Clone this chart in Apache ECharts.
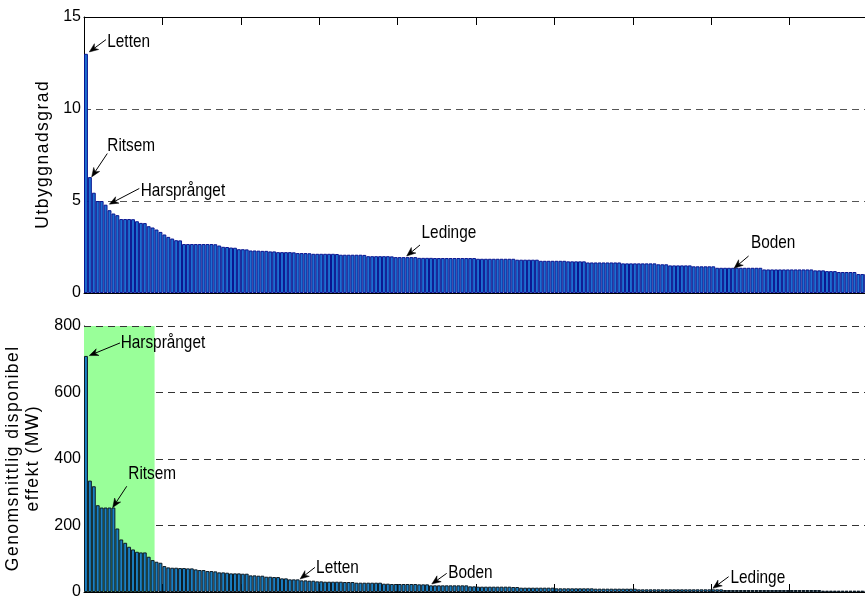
<!DOCTYPE html>
<html>
<head>
<meta charset="utf-8">
<script src="https://cdn.jsdelivr.net/npm/echarts@6/dist/echarts.min.js"></script>
<style>
html,body{margin:0;padding:0;background:#fff;}
#chart{width:865px;height:596px;}
</style>
</head>
<body>
<div id="chart"></div>
<script>
// Utbyggnadsgrad per station, sorted descending (top panel)
const utbyggnadsgrad = [
  13.0, 6.3, 5.45, 5.0, 5.0, 4.8, 4.5, 4.32, 4.23, 4.02, 4.02, 4.02, 4.01, 3.9, 3.81, 3.8, 3.63, 3.56, 3.45, 3.32,
  3.18, 3.05, 2.96, 2.87, 2.86, 2.66, 2.66, 2.66, 2.66, 2.66, 2.66, 2.66, 2.66, 2.65, 2.58, 2.51, 2.5, 2.47, 2.46, 2.38,
  2.38, 2.37, 2.31, 2.31, 2.3, 2.29, 2.29, 2.26, 2.26, 2.22, 2.22, 2.22, 2.22, 2.21, 2.17, 2.17, 2.17, 2.16, 2.13, 2.13,
  2.13, 2.13, 2.13, 2.13, 2.12, 2.08, 2.08, 2.08, 2.08, 2.08, 2.08, 2.07, 2.0, 2.0, 2.0, 2.0, 2.0, 2.0, 1.99, 1.95,
  1.95, 1.95, 1.95, 1.95, 1.95, 1.91, 1.91, 1.91, 1.91, 1.9, 1.9, 1.9, 1.9, 1.9, 1.9, 1.9, 1.9, 1.9, 1.9, 1.9,
  1.86, 1.86, 1.86, 1.86, 1.86, 1.86, 1.86, 1.86, 1.86, 1.86, 1.81, 1.81, 1.81, 1.81, 1.81, 1.81, 1.75, 1.75, 1.75, 1.75,
  1.75, 1.75, 1.75, 1.72, 1.72, 1.72, 1.72, 1.72, 1.66, 1.66, 1.66, 1.66, 1.66, 1.66, 1.66, 1.66, 1.66, 1.61, 1.61, 1.61,
  1.61, 1.61, 1.61, 1.61, 1.61, 1.61, 1.56, 1.56, 1.56, 1.5, 1.5, 1.5, 1.5, 1.5, 1.5, 1.45, 1.45, 1.45, 1.45, 1.45,
  1.45, 1.37, 1.37, 1.37, 1.37, 1.37, 1.37, 1.37, 1.37, 1.37, 1.37, 1.37, 1.37, 1.28, 1.28, 1.28, 1.28, 1.28, 1.28, 1.28,
  1.28, 1.28, 1.28, 1.28, 1.28, 1.28, 1.23, 1.23, 1.23, 1.19, 1.19, 1.19, 1.14, 1.14, 1.14, 1.14, 1.14, 1.03, 1.03, 1.03, 1.03, 1.03
];

// Genomsnittlig disponibel effekt (MW), sorted descending (bottom panel)
const effektMW = [
  710, 335, 318, 261, 254, 254, 254, 254, 191, 158, 148, 136, 128, 121, 119, 119, 106, 96, 91, 88,
  78, 74, 73, 73, 72, 72, 71, 71, 68, 66, 66, 63, 63, 62, 59, 59, 58, 56, 56, 56,
  55, 55, 50, 50, 49, 49, 46, 46, 45, 45, 41, 41, 38, 38, 38, 35, 35, 34, 34, 32,
  32, 31, 31, 31, 31, 31, 30, 30, 30, 28, 28, 28, 28, 28, 28, 28, 25, 25, 24, 24,
  24, 24, 24, 24, 24, 23, 23, 23, 20, 20, 20, 20, 20, 20, 20, 20, 20, 20, 17, 17,
  16, 16, 16, 16, 16, 16, 16, 16, 16, 15, 15, 13, 13, 13, 13, 13, 13, 13, 13, 13,
  11, 11, 11, 11, 11, 11, 11, 11, 11, 11, 10, 10, 10, 10, 10, 10, 10, 10, 10, 10,
  10, 8, 8, 8, 8, 8, 8, 8, 8, 8, 8, 8, 8, 8, 8, 8, 8, 8, 8, 8,
  8, 8, 8, 6, 6, 6, 6, 6, 6, 6, 6, 6, 6, 6, 6, 6, 6, 6, 6, 6,
  6, 6, 6, 6, 6, 6, 6, 6, 4, 4, 4, 4, 4, 4, 4, 4, 4, 4, 4, 4, 4, 4
];

// Station rank (category axis)
const stationRank = utbyggnadsgrad.map((_, i) => String(i + 1));

// Axis settings
const topAxis = { min: 0, max: 15, interval: 5 };
const bottomAxis = { min: 0, max: 800, interval: 200 };
const xTickEvery = 20;

// Green highlighted region in bottom panel: first stations, up to 800 MW
const shadeStations = 18;
const shadeTop = 800;

// Annotations: [label, arrow head [station position, value], arrow tail, label anchor]
const topNotes = [
  ['Letten',      [1.35, 13.1], [5.6, 13.77], [5.94, 13.66]],
  ['Ritsem',      [1.96, 6.31], [5.94, 7.58], [5.94, 8.0]],
  ['Harsprånget', [6.46, 4.83], [14.1, 5.68], [14.45, 5.56]],
  ['Ledinge',     [82.3, 2.01], [85.7, 2.61], [86.1, 3.26]],
  ['Boden',       [165.8, 1.34], [169.5, 2.01], [170.1, 2.71]]
];
const bottomNotes = [
  ['Harsprånget', [1.35, 711], [9.18, 749], [9.36, 749]],
  ['Ritsem',      [7.32, 254], [10.9, 318], [11.3, 354]],
  ['Letten',      [55.1, 39], [58.9, 74], [59.2, 72]],
  ['Boden',       [88.7, 24], [92.5, 56], [92.9, 57]],
  ['Ledinge',     [160.4, 11], [164.4, 46], [164.9, 43]]
];

const spaced = s => s.split('').join('\u200A');
const N = utbyggnadsgrad.length;
const FONT = '"Liberation Sans", Arial, sans-serif';
const NOTE_FONT = '18.5px "Liberation Sans", Arial, sans-serif';

const chart = echarts.init(document.getElementById('chart'), null, { renderer: 'canvas' });

const tickFn = (idx) => idx % xTickEvery === 0;

const option = {
  animation: false,
  backgroundColor: '#ffffff',
  grid: [
    { left: 84, top: 17, width: 792, height: 276, containLabel: false, outerBoundsMode: 'none' },
    { left: 84, top: 326, width: 792, height: 266, containLabel: false, outerBoundsMode: 'none' }
  ],
  xAxis: [
    { gridIndex: 0, type: 'category', data: stationRank, position: 'bottom', boundaryGap: true,
      axisLine: { show: true, lineStyle: { color: '#000', width: 1 } },
      axisTick: { show: false }, axisLabel: { show: false }, splitLine: { show: false } },
    { gridIndex: 0, type: 'category', data: stationRank, position: 'top', boundaryGap: true,
      axisLine: { show: true, lineStyle: { color: '#000', width: 1 } },
      axisTick: { show: true, inside: true, length: 8, interval: tickFn, lineStyle: { color: '#000' } },
      axisLabel: { show: false }, splitLine: { show: false } },
    { gridIndex: 0, type: 'value', min: 0, max: N, show: false },
    { gridIndex: 1, type: 'category', data: stationRank, position: 'bottom', boundaryGap: true,
      axisLine: { show: true, lineStyle: { color: '#000', width: 1 } },
      axisTick: { show: true, inside: true, length: 8, interval: tickFn, lineStyle: { color: '#000' } },
      axisLabel: { show: false }, splitLine: { show: false } },
    { gridIndex: 1, type: 'value', min: 0, max: N, show: false }
  ],
  yAxis: [
    { gridIndex: 0, type: 'value', min: topAxis.min, max: topAxis.max, interval: topAxis.interval,
      name: spaced('Utbyggnadsgrad'), nameLocation: 'middle', nameGap: 21, nameRotate: 90,
      nameTextStyle: { fontFamily: FONT, fontSize: 17.5, color: '#000' },
      axisLine: { show: true, lineStyle: { color: '#000', width: 1 } },
      axisTick: { show: false },
      axisLabel: { fontFamily: FONT, fontSize: 16, color: '#000', margin: 3 },
      splitLine: { show: true, lineStyle: { color: '#555', type: [7, 5], width: 1 } } },
    { gridIndex: 1, type: 'value', min: bottomAxis.min, max: bottomAxis.max, interval: bottomAxis.interval,
      name: spaced('Genomsnittlig disponibel') + '\n' + spaced('effekt (MW)'),
      nameLocation: 'middle', nameGap: 28, nameRotate: 90,
      nameTextStyle: { fontFamily: FONT, fontSize: 17.5, color: '#000', lineHeight: 20 },
      axisLine: { show: true, lineStyle: { color: '#000', width: 1 } },
      axisTick: { show: false },
      axisLabel: { fontFamily: FONT, fontSize: 16, color: '#000', margin: 3 },
      splitLine: { show: true, lineStyle: { color: '#333', type: [7, 5], width: 1 } } }
  ],
  series: [
    { type: 'bar', name: 'Utbyggnadsgrad', xAxisIndex: 0, yAxisIndex: 0, data: utbyggnadsgrad,
      barCategoryGap: '0%', silent: true, z: 2,
      itemStyle: { color: '#1d6fd0', borderColor: '#0a1590', borderWidth: 1 } },
    { type: 'custom', name: 'shade', xAxisIndex: 4, yAxisIndex: 1, silent: true, z: 1,
      data: [[0, shadeStations, shadeTop]],
      encode: { x: [0, 1], y: 2 },
      renderItem: (params, api) => {
        const p0 = api.coord([api.value(0), api.value(2)]);
        const p1 = api.coord([api.value(1), 0]);
        return { type: 'rect', shape: { x: p0[0], y: p0[1], width: p1[0] - p0[0], height: p1[1] - p0[1] },
                 style: { fill: '#99ff99' } };
      } },
    { type: 'bar', name: 'Effekt', xAxisIndex: 3, yAxisIndex: 1, data: effektMW,
      barCategoryGap: '0%', silent: true, z: 3,
      itemStyle: { color: '#1a80c4', borderColor: '#0c1a24', borderWidth: 1 },
      markLine: { silent: true, symbol: 'none', label: { show: false },
        lineStyle: { color: '#333', type: [7, 5], width: 1 },
        data: [{ yAxis: bottomAxis.max }] } }
  ]
};

chart.setOption(option);

function noteGraphics(notes, xIdx, yIdx) {
  const out = [];
  notes.forEach(([label, head, tail, anchor]) => {
    const h = chart.convertToPixel({ xAxisIndex: xIdx, yAxisIndex: yIdx }, head);
    const t = chart.convertToPixel({ xAxisIndex: xIdx, yAxisIndex: yIdx }, tail);
    const a = chart.convertToPixel({ xAxisIndex: xIdx, yAxisIndex: yIdx }, anchor);
    const dx = h[0] - t[0], dy = h[1] - t[1];
    const len = Math.sqrt(dx * dx + dy * dy);
    const ux = dx / len, uy = dy / len, nx = -uy, ny = ux;
    const L = 9, W = 3.6;
    out.push({ type: 'line', silent: true, z: 100,
      shape: { x1: t[0], y1: t[1], x2: h[0] - ux * 5, y2: h[1] - uy * 5 },
      style: { stroke: '#000', lineWidth: 1 } });
    out.push({ type: 'polygon', silent: true, z: 100,
      shape: { points: [
        [h[0], h[1]],
        [h[0] - ux * L + nx * W, h[1] - uy * L + ny * W],
        [h[0] - ux * L * 0.7, h[1] - uy * L * 0.7],
        [h[0] - ux * L - nx * W, h[1] - uy * L - ny * W]
      ] },
      style: { fill: '#000', stroke: '#000', lineWidth: 0.5 } });
    out.push({ type: 'text', silent: true, z: 100, x: a[0], y: a[1], scaleX: 0.83, scaleY: 1,
      style: { text: label, font: NOTE_FONT, fill: '#000', align: 'left', verticalAlign: 'middle' } });
  });
  return out;
}

chart.setOption({ graphic: noteGraphics(topNotes, 2, 0).concat(noteGraphics(bottomNotes, 4, 1)) });
</script>
</body>
</html>
